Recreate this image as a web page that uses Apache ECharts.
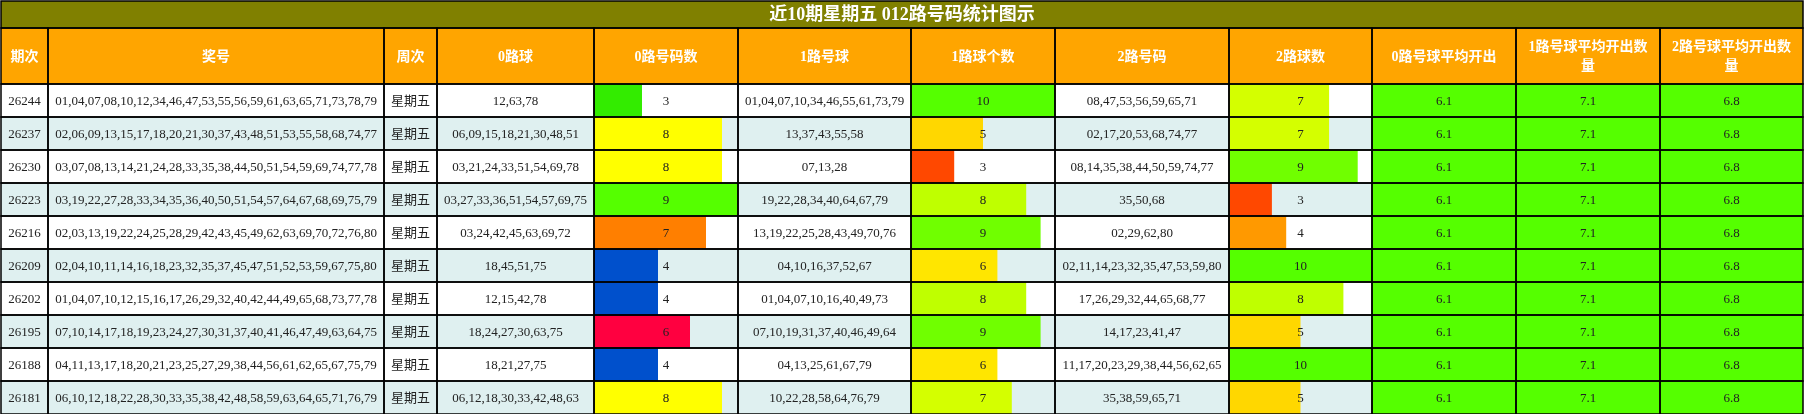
<!DOCTYPE html>
<html>
<head>
<meta charset="utf-8">
<script src="https://cdn.jsdelivr.net/npm/echarts/dist/echarts.min.js"></script>
<style>
html, body { margin: 0; padding: 0; background: #fff; }
#chart { width: 1804px; height: 414px; }
</style>
</head>
<body>
<div id="chart"></div>
<script>
const titleText = '近10期星期五 012路号码统计图示';
const headers = ['期次', '奖号', '周次', '0路球', '0路号码数', '1路号球', '1路球个数', '2路号码', '2路球数',
    '0路号球平均开出', '1路号球平均开出数\n量', '2路号球平均开出数\n量'];

const periods = ['26244', '26237', '26230', '26223', '26216', '26209', '26202', '26195', '26188', '26181'];
const draws = [
    '01,04,07,08,10,12,34,46,47,53,55,56,59,61,63,65,71,73,78,79',
    '02,06,09,13,15,17,18,20,21,30,37,43,48,51,53,55,58,68,74,77',
    '03,07,08,13,14,21,24,28,33,35,38,44,50,51,54,59,69,74,77,78',
    '03,19,22,27,28,33,34,35,36,40,50,51,54,57,64,67,68,69,75,79',
    '02,03,13,19,22,24,25,28,29,42,43,45,49,62,63,69,70,72,76,80',
    '02,04,10,11,14,16,18,23,32,35,37,45,47,51,52,53,59,67,75,80',
    '01,04,07,10,12,15,16,17,26,29,32,40,42,44,49,65,68,73,77,78',
    '07,10,14,17,18,19,23,24,27,30,31,37,40,41,46,47,49,63,64,75',
    '04,11,13,17,18,20,21,23,25,27,29,38,44,56,61,62,65,67,75,79',
    '06,10,12,18,22,28,30,33,35,38,42,48,58,59,63,64,65,71,76,79'
];
const weekdays = ['星期五', '星期五', '星期五', '星期五', '星期五', '星期五', '星期五', '星期五', '星期五', '星期五'];
const road0 = ['12,63,78', '06,09,15,18,21,30,48,51', '03,21,24,33,51,54,69,78', '03,27,33,36,51,54,57,69,75',
    '03,24,42,45,63,69,72', '18,45,51,75', '12,15,42,78', '18,24,27,30,63,75', '18,21,27,75', '06,12,18,30,33,42,48,63'];
const road0Count = [3, 8, 8, 9, 7, 4, 4, 6, 4, 8];
const road1 = ['01,04,07,10,34,46,55,61,73,79', '13,37,43,55,58', '07,13,28', '19,22,28,34,40,64,67,79',
    '13,19,22,25,28,43,49,70,76', '04,10,16,37,52,67', '01,04,07,10,16,40,49,73', '07,10,19,31,37,40,46,49,64',
    '04,13,25,61,67,79', '10,22,28,58,64,76,79'];
const road1Count = [10, 5, 3, 8, 9, 6, 8, 9, 6, 7];
const road2 = ['08,47,53,56,59,65,71', '02,17,20,53,68,74,77', '08,14,35,38,44,50,59,74,77', '35,50,68',
    '02,29,62,80', '02,11,14,23,32,35,47,53,59,80', '17,26,29,32,44,65,68,77', '14,17,23,41,47',
    '11,17,20,23,29,38,44,56,62,65', '35,38,59,65,71'];
const road2Count = [7, 7, 9, 3, 4, 10, 8, 5, 10, 5];
const avg0 = [6.1, 6.1, 6.1, 6.1, 6.1, 6.1, 6.1, 6.1, 6.1, 6.1];
const avg1 = [7.1, 7.1, 7.1, 7.1, 7.1, 7.1, 7.1, 7.1, 7.1, 7.1];
const avg2 = [6.8, 6.8, 6.8, 6.8, 6.8, 6.8, 6.8, 6.8, 6.8, 6.8];

// layout / style
const colWidths = [47, 336, 53, 157, 144, 173, 144, 174, 143, 144, 144, 143];
const titleH = 27, headerH = 56, rowH = 33;
const road0Colors = {3: '#33ec00', 4: '#0050cc', 6: '#ff0040', 7: '#ff7f00', 8: '#ffff00', 9: '#55ff00'};
const roadColors = {3: '#ff4800', 4: '#ff9900', 5: '#ffd700', 6: '#ffe600', 7: '#d4ff00', 8: '#bfff00', 9: '#70ff00', 10: '#55ff00'};
const textFont = "'Liberation Serif', 'Noto Sans CJK SC', serif";

const columns = [periods, draws, weekdays, road0, road0Count, road1, road1Count, road2, road2Count, avg0, avg1, avg2];
const barCols = [4, 6, 8];
const avgCols = [9, 10, 11];

const edges = [0];
colWidths.forEach(w => edges.push(edges[edges.length - 1] + w));
const totalW = edges[edges.length - 1];
const totalH = titleH + headerH + rowH * periods.length;

// cells: row -2 = title, -1 = header, 0.. = data rows
const cells = [{col: 0, row: -2, text: titleText}];
headers.forEach((h, c) => cells.push({col: c, row: -1, text: h}));
periods.forEach((p, r) => {
    columns.forEach((arr, c) => cells.push({col: c, row: r, text: String(arr[r])}));
});

function cellRect(api, cell) {
    let y0, h, x0, x1;
    if (cell.row === -2) {
        y0 = 0; h = titleH; x0 = 0; x1 = totalW;
    } else {
        y0 = cell.row === -1 ? titleH : titleH + headerH + cell.row * rowH;
        h = cell.row === -1 ? headerH : rowH;
        x0 = edges[cell.col]; x1 = edges[cell.col + 1];
    }
    const p0 = api.coord([x0, y0]);
    const p1 = api.coord([x1, y0 + h]);
    return {x: p0[0], y: p0[1], width: p1[0] - p0[0], height: p1[1] - p0[1]};
}

function cellFill(cell) {
    if (cell.row === -2) return '#808000';
    if (cell.row === -1) return '#ffa500';
    if (avgCols.includes(cell.col)) return '#55ff00';
    return cell.row % 2 === 0 ? '#ffffff' : '#dff0f0';
}

const chart = echarts.init(document.getElementById('chart'));

const grids = [{left: 1, top: 1, width: totalW, height: totalH}];
const xAxes = [{type: 'value', min: 0, max: totalW, show: false, gridIndex: 0}];
const yAxes = [{type: 'value', min: 0, max: totalH, inverse: true, show: false, gridIndex: 0}];
const barData = [road0Count, road1Count, road2Count];
const barMax = [9, 10, 10];
const barSeries = [];
barCols.forEach((c, i) => {
    grids.push({left: 1 + edges[c], top: 1 + titleH + headerH, width: colWidths[c], height: rowH * periods.length});
    xAxes.push({type: 'value', min: 0, max: barMax[i], show: false, gridIndex: i + 1});
    yAxes.push({type: 'category', data: periods, inverse: true, show: false, gridIndex: i + 1});
    const palette = i === 0 ? road0Colors : roadColors;
    barSeries.push({
        type: 'bar',
        xAxisIndex: i + 1,
        yAxisIndex: i + 1,
        barCategoryGap: '0%',
        z: 3,
        silent: true,
        data: barData[i].map(v => ({value: v, itemStyle: {color: palette[v]}}))
    });
});

const option = {
    animation: false,
    backgroundColor: '#fff',
    grid: grids,
    xAxis: xAxes,
    yAxis: yAxes,
    series: [
        {
            type: 'custom',
            xAxisIndex: 0,
            yAxisIndex: 0,
            z: 1,
            silent: true,
            data: cells.map((c, i) => [i]),
            renderItem: function (params, api) {
                const cell = cells[params.dataIndex];
                return {type: 'rect', shape: cellRect(api, cell), style: {fill: cellFill(cell)}};
            }
        },
        ...barSeries,
        {
            type: 'custom',
            xAxisIndex: 0,
            yAxisIndex: 0,
            z: 5,
            silent: true,
            data: cells.map((c, i) => [i]),
            renderItem: function (params, api) {
                const cell = cells[params.dataIndex];
                const r = cellRect(api, cell);
                const isHead = cell.row < 0;
                return {
                    type: 'group',
                    children: [
                        {type: 'rect', shape: r, style: {fill: 'none', stroke: '#000', lineWidth: 1.5}},
                        {
                            type: 'text',
                            style: {
                                text: cell.text,
                                x: r.x + r.width / 2,
                                y: r.y + r.height / 2 + 1,
                                align: 'center',
                                verticalAlign: 'middle',
                                fill: isHead ? '#fff' : '#222',
                                fontFamily: textFont,
                                fontWeight: isHead ? 'bold' : 'normal',
                                fontSize: cell.row === -2 ? 18 : (isHead ? 14 : 13),
                                lineHeight: 19
                            }
                        }
                    ]
                };
            }
        }
    ]
};
chart.setOption(option);
</script>
</body>
</html>
